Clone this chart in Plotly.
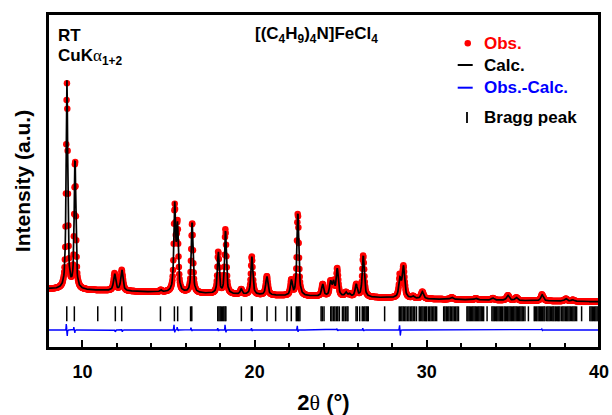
import numpy as np
import plotly.graph_objects as go

# ---------------- data ----------------
# Reflections of the profile: 2theta (deg), height above background (a.u.), FWHM (deg)
peak_pos = [9.10, 9.57, 11.87, 12.29, 14.55, 15.36, 15.52, 16.37, 17.89, 18.31,
            19.22, 19.84, 20.71, 22.13, 22.51, 23.95, 24.41, 24.58, 24.80, 25.30,
            25.50, 25.90, 26.31, 28.44, 28.64, 29.20, 29.74, 31.45, 32.85, 33.84,
            34.71, 35.20, 36.70, 38.08, 38.48]
peak_h = [208, 130, 17, 21, 2, 85, 63, 71, 42, 63,
          5, 38, 19, 15, 83, 12, 14, 13, 27, 4,
          2.5, 12, 41, 18, 31, 2, 7, 2, 1.5, 2,
          5, 3, 6, 2.5, 1.5]
peak_w = [0.11, 0.11, 0.15, 0.15, 0.12, 0.12, 0.12, 0.12, 0.12, 0.12,
          0.13, 0.13, 0.15, 0.13, 0.13, 0.14, 0.14, 0.14, 0.14, 0.14,
          0.14, 0.14, 0.14, 0.16, 0.16, 0.16, 0.17, 0.18, 0.18, 0.18,
          0.18, 0.18, 0.18, 0.18, 0.18]

# background (a.u.)
bg_x = [8, 10, 14, 18, 22, 26, 30, 35, 40]
bg_y = [59, 58, 56, 54, 52, 51, 49, 47.5, 46.3]

# residual (Obs.-Calc.) wiggles: position, positive swing, negative swing
res_pos = [9.09, 9.53, 11.88, 12.29, 15.34, 15.53, 16.33, 17.88, 18.31, 19.84,
           22.50, 24.80, 26.31, 28.44, 36.70]
res_up = [6.5, 3, 0.5, 0.5, 5.5, 3, 2.5, 2, 5.5, 2, 4.5, 1.5, 2, 5, 1]
res_dn = [6.5, 3, 2, 2, 2.5, 1, 1, 1, 2.5, 1, 2, 1, 1, 6, 0.5]
res_base = 18.0

# Bragg peak positions (2theta, deg)
bragg = [9.09, 9.53, 10.89, 11.91, 12.28, 14.53, 15.34, 15.53, 16.28, 16.35,
         17.86, 17.93, 18.00, 18.07, 18.14, 18.21, 18.28, 18.33,
         19.23, 19.81, 19.86, 20.72, 21.22, 21.88, 22.13, 22.42, 22.49, 22.56, 22.63,
         23.86, 23.93, 24.03, 24.42, 24.49, 24.58, 24.66, 24.75, 24.83, 24.92,
         25.10, 25.18, 25.27, 25.36, 25.42, 25.89, 25.96, 26.10,
         26.25, 26.32, 26.40, 26.48, 26.55, 26.60, 27.55,
         28.40, 28.47, 28.55, 28.63, 28.71, 28.79, 28.88, 28.96, 29.05, 29.13, 29.21, 29.30, 29.40,
         29.56, 29.63, 29.71, 29.78, 29.86, 29.93, 29.99,
         30.09, 30.17, 30.25, 30.33, 30.41, 30.49, 30.57,
         30.98, 31.05, 31.13, 31.20, 31.28, 31.36, 31.44, 31.52, 31.60, 31.68, 31.76, 31.84,
         32.33, 32.39, 32.46, 32.53, 32.60, 32.67, 32.74, 32.81, 32.88, 32.95, 33.02, 33.09,
         33.16, 33.23, 33.30, 33.50,
         33.78, 33.85, 33.92, 33.99, 34.06, 34.13, 34.20, 34.27, 34.34, 34.40,
         34.49, 34.56, 34.63, 34.70, 34.77, 34.84, 34.91, 34.98, 35.05, 35.12, 35.19, 35.26,
         35.33, 35.40, 35.47, 35.54, 35.61, 35.70, 35.90,
         36.24, 36.31, 36.38, 36.46, 36.53, 36.60, 36.66, 36.73, 36.80, 36.86,
         36.96, 37.03, 37.10, 37.17, 37.25, 37.32, 37.38, 37.46, 37.53, 37.60, 37.66, 37.73,
         37.83, 37.90, 37.97, 38.05, 38.12, 38.19, 38.26, 38.33, 38.41, 38.48, 38.55, 38.62, 38.70,
         38.99, 39.47, 39.54, 39.61, 39.68, 39.75, 39.82, 39.89, 39.96]
bragg_level = 34.2

x_ticks = [10, 20, 30, 40]

# ---------------- build the profiles ----------------
tth = np.round(np.arange(8.0, 40.0001, 0.02), 3)
eta = 0.75
calc = np.interp(tth, bg_x, bg_y)
for p, h, w in zip(peak_pos, peak_h, peak_w):
    d = (tth - p) / w
    calc = calc + h * (eta / (1 + 4 * d ** 2) + (1 - eta) * np.exp(-4 * np.log(2) * d ** 2))

resid = np.zeros_like(tth)
for p, u, dn in zip(res_pos, res_up, res_dn):
    resid = resid + u * np.exp(-((tth - (p - 0.025)) / 0.018) ** 2) \
                  - dn * np.exp(-((tth - (p + 0.025)) / 0.018) ** 2)
obs = calc + resid

FONT = "Liberation Sans, Arial, sans-serif"

fig = go.Figure()
fig.add_trace(go.Scatter(x=tth, y=obs, mode="markers", name="Obs.",
                         marker=dict(color="#ff0000", size=6.5, line=dict(width=0))))
fig.add_trace(go.Scatter(x=tth, y=calc, mode="lines", name="Calc.",
                         line=dict(color="black", width=1.7)))
fig.add_trace(go.Scatter(x=tth, y=res_base + resid, mode="lines", name="Obs.-Calc.",
                         line=dict(color="#0000ff", width=1.4)))
fig.add_trace(go.Scatter(x=bragg, y=[bragg_level] * len(bragg), mode="markers",
                         name="Bragg peak",
                         marker=dict(symbol="line-ns", size=10.7, color="black",
                                     line=dict(color="black", width=1.5))))

# ---------------- manual legend ----------------
L, W, B, H = 48.0, 551.0, 348.0, 334.0
def px(xp):
    return (xp - L) / W
def py(yp):
    return (B - yp) / H

leg_items = [("Obs.", "#ff0000", 43.3), ("Calc.", "black", 65.0),
             ("Obs.-Calc.", "#0000ff", 87.7), ("Bragg peak", "black", 117.3)]
for txt, col, yp in leg_items:
    fig.add_annotation(x=px(482), y=py(yp), xref="paper", yref="paper",
                       text="<b>%s</b>" % txt, showarrow=False, xanchor="left",
                       yanchor="middle", font=dict(family=FONT, size=17, color=col))
fig.add_shape(type="circle", xref="paper", yref="paper",
              x0=px(464.5), x1=px(471), y0=py(46.5), y1=py(40),
              fillcolor="#ff0000", line=dict(width=0))
fig.add_shape(type="line", xref="paper", yref="paper", x0=px(457.7), x1=px(472.7),
              y0=py(65), y1=py(65), line=dict(color="black", width=2))
fig.add_shape(type="line", xref="paper", yref="paper", x0=px(457.7), x1=px(472.7),
              y0=py(87.7), y1=py(87.7), line=dict(color="#0000ff", width=2))
fig.add_shape(type="line", xref="paper", yref="paper", x0=px(467), x1=px(467),
              y0=py(112), y1=py(123), line=dict(color="black", width=1.8))
# plot frame
fig.add_shape(type="rect", xref="paper", yref="paper", x0=0, x1=1, y0=0, y1=1,
              line=dict(color="black", width=2), fillcolor="rgba(0,0,0,0)", layer="above")

# ---------------- texts ----------------
fig.add_annotation(x=px(56), y=py(35), xref="paper", yref="paper",
                   text="<b>RT</b>", showarrow=False, xanchor="left", yanchor="middle",
                   font=dict(family=FONT, size=17, color="black"))
fig.add_annotation(x=px(56), y=py(57), xref="paper", yref="paper",
                   text="<b>CuK</b><span style='font-family:Liberation Serif;font-weight:normal'>α</span><sub><b>1+2</b></sub>",
                   showarrow=False, xanchor="left", yanchor="middle",
                   font=dict(family=FONT, size=17, color="black"))
fig.add_annotation(x=px(316), y=py(35), xref="paper", yref="paper",
                   text="<b>[(C<sub>4</sub>H<sub>9</sub>)<sub>4</sub>N]FeCl<sub>4</sub></b>",
                   showarrow=False, xanchor="center", yanchor="middle",
                   font=dict(family=FONT, size=17, color="black"))

fig.update_layout(
    width=612, height=415,
    margin=dict(l=48, r=13, t=14, b=67, autoexpand=False),
    paper_bgcolor="white", plot_bgcolor="white",
    showlegend=False,
    font=dict(family=FONT, color="black"),
    xaxis=dict(range=[8, 40], tickvals=x_ticks, ticktext=[str(v) for v in x_ticks],
               automargin=False,
               ticks="inside", ticklen=8, tickwidth=1.5, tickcolor="black",
               ticklabelstandoff=6,
               showline=True, linecolor="black", linewidth=2, mirror=True,
               showgrid=False, zeroline=False,
               tickfont=dict(family=FONT, size=18, color="black", weight="bold"),
               minor=dict(tickvals=[12, 14, 16, 18, 22, 24, 26, 28, 32, 34, 36, 38],
                          ticks="inside", ticklen=5, tickwidth=1.5, tickcolor="black"),
               title=dict(text="<b>2</b><span style='font-family:Liberation Serif;font-weight:normal'>θ</span><b> (°)</b>",
                          font=dict(family=FONT, size=22, color="black"), standoff=16)),
    yaxis=dict(range=[0, 334], showticklabels=False, ticks="", automargin=False,
               showline=True, linecolor="black", linewidth=2, mirror=True,
               showgrid=False, zeroline=False,
               title=dict(text="<b>Intensity (a.u.)</b>",
                          font=dict(family=FONT, size=21, color="black"), standoff=10)),
)

fig.write_html("out.html", config={"displayModeBar": False},
               post_script="document.body.style.margin='0';document.body.style.padding='0';")
